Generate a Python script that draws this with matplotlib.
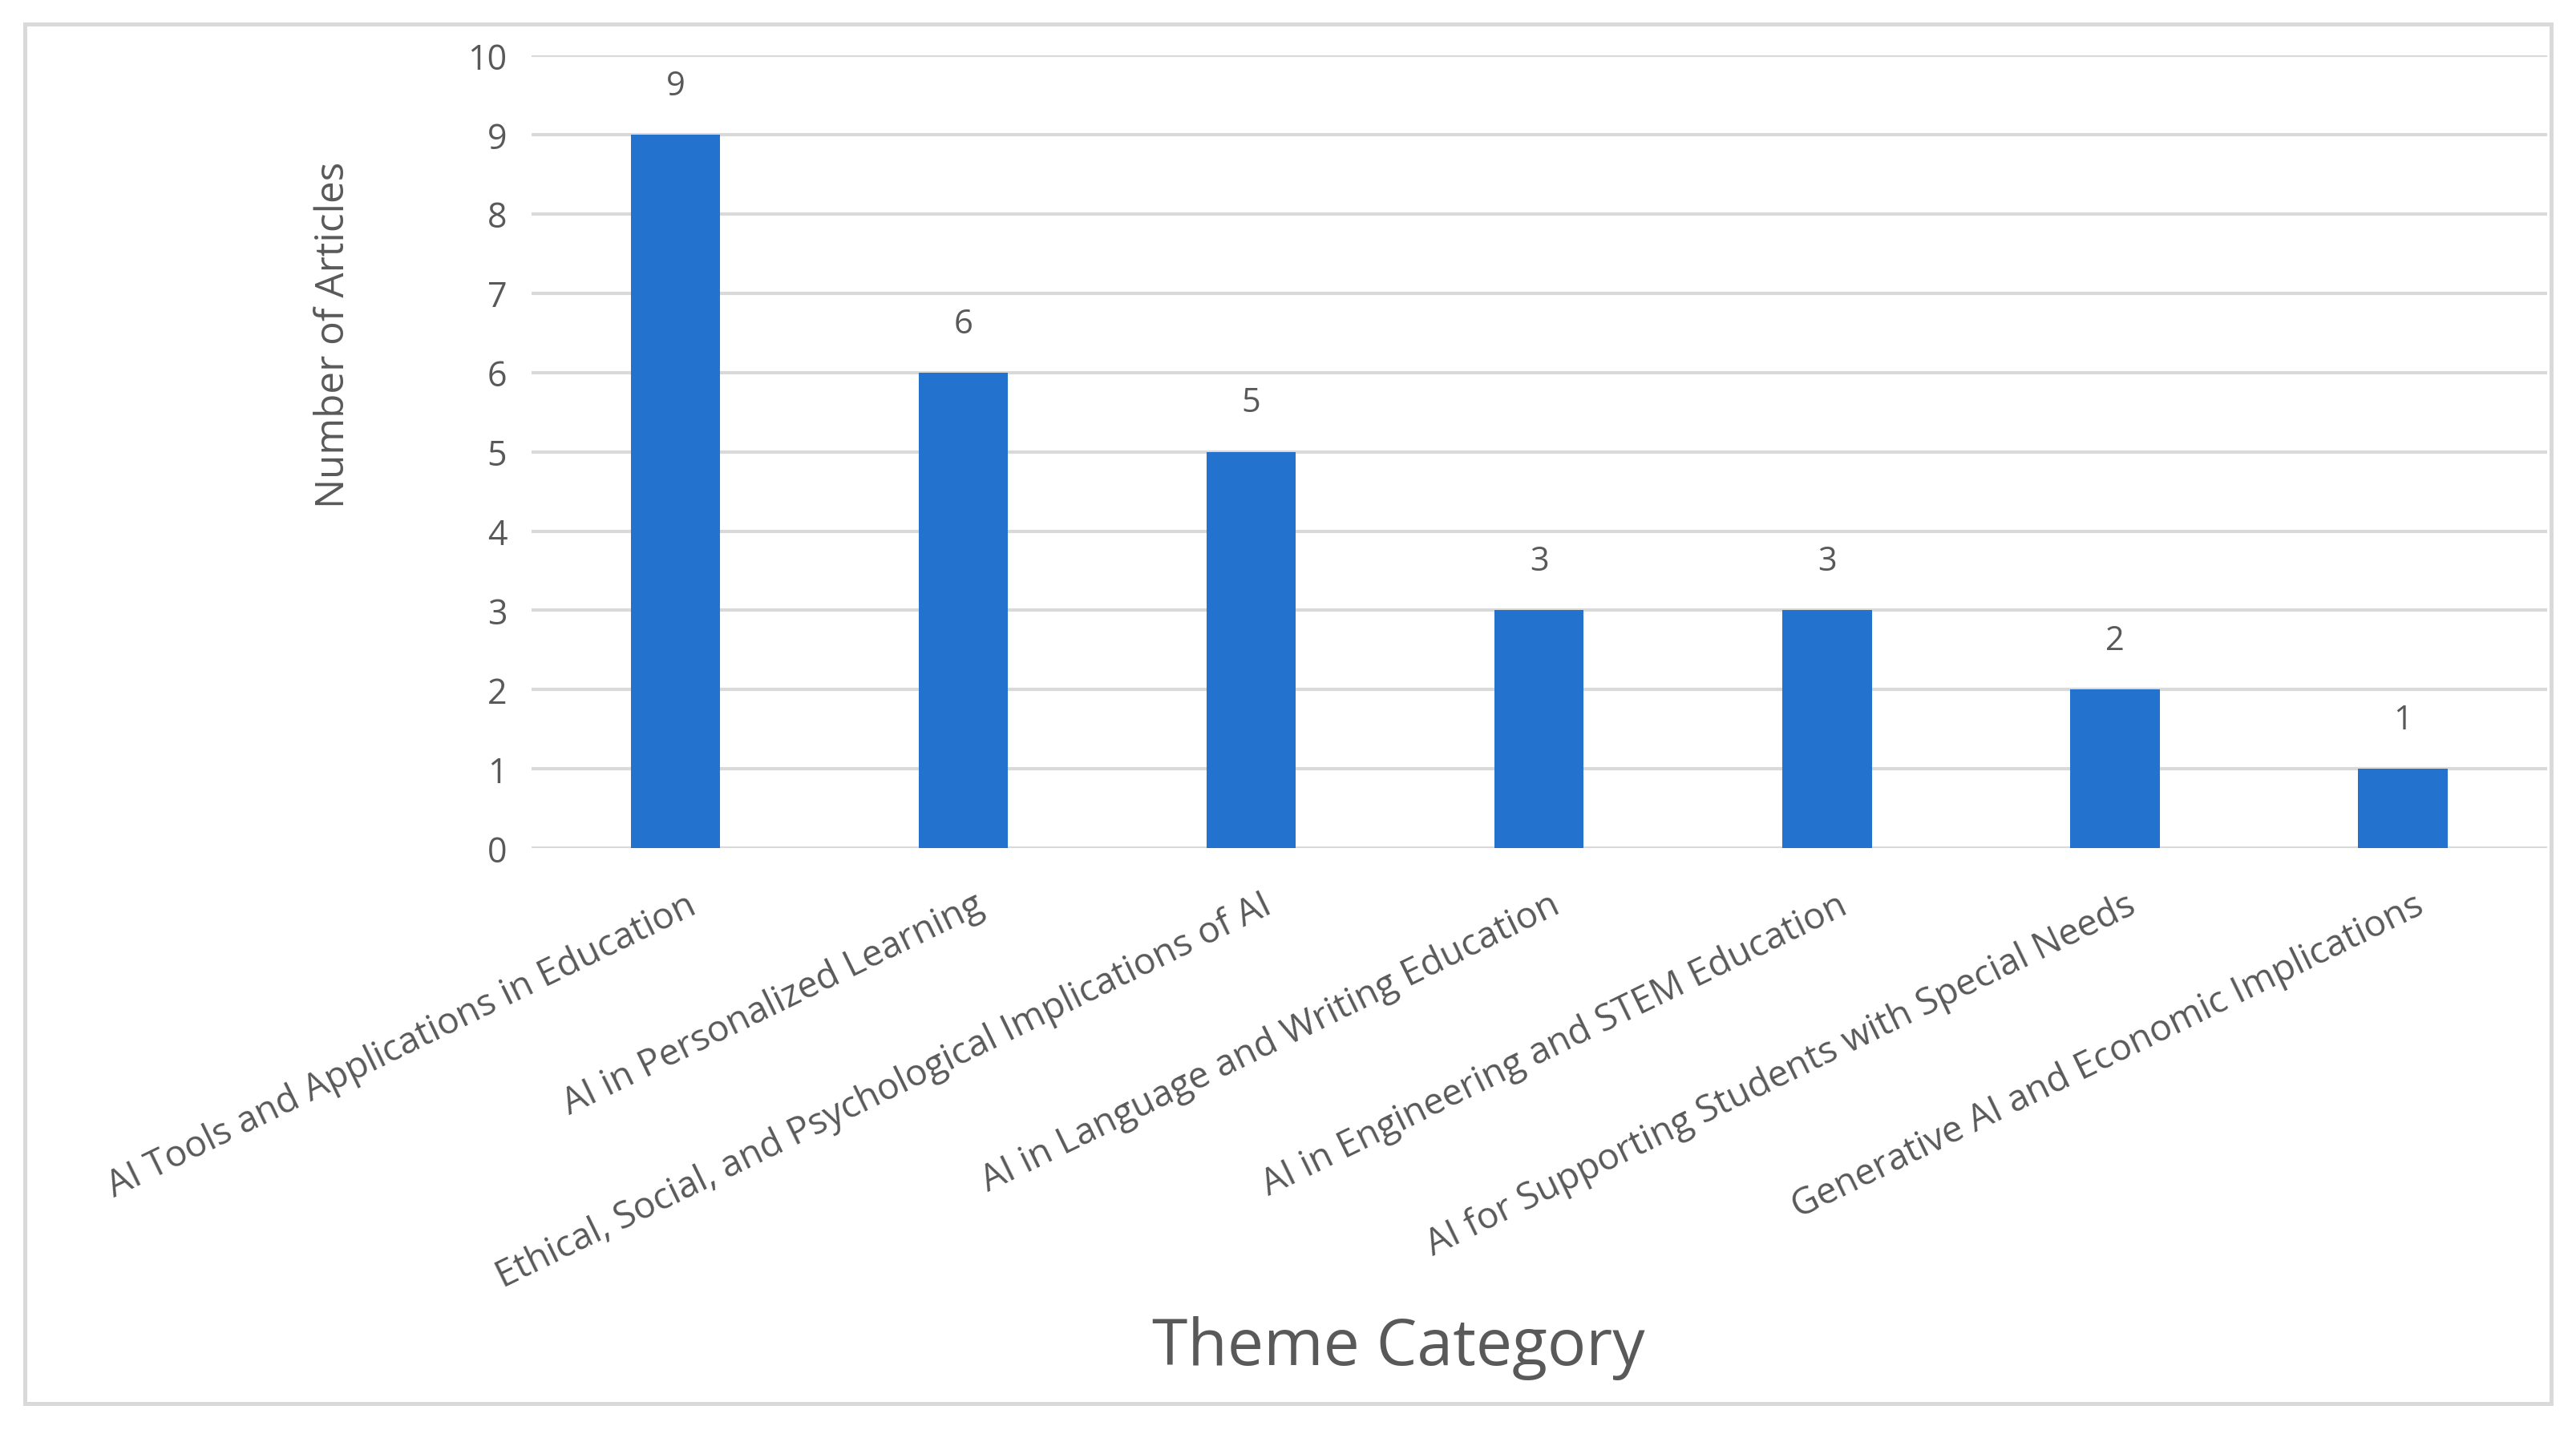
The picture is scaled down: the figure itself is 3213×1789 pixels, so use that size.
import matplotlib
matplotlib.use("Agg")
import matplotlib.pyplot as plt
from matplotlib.patches import Rectangle
from matplotlib.transforms import ScaledTranslation

# chart data
categories = [
    "AI Tools and Applications in Education",
    "AI in Personalized Learning",
    "Ethical, Social, and Psychological Implications of AI",
    "AI in Language and Writing Education",
    "AI in Engineering and STEM Education",
    "AI for Supporting Students with Special Needs",
    "Generative AI and Economic Implications",
]
articles = [9, 6, 5, 3, 3, 2, 1]
y_ticks = list(range(0, 11))

bar_color = "#2372cd"
text_color = "#595959"
grid_color = "#d9d9d9"

plt.rcParams["font.family"] = ["Open Sans", "DejaVu Sans"]

fig = plt.figure(figsize=(16.065, 8.95), dpi=200)
ax = fig.add_axes([0.2063, 0.4082, 0.7824, 0.5528])

x = list(range(len(categories)))
ax.bar(x, articles, width=0.31, color=bar_color, zorder=3)

# data labels above bars
for xi, v in zip(x, articles):
    ax.annotate(str(v), (xi, v), xytext=(0, 22), textcoords="offset points",
                ha="center", va="center", fontsize=15, color=text_color)

ax.set_xlim(-0.5, len(categories) - 0.5)
ax.set_ylim(0, 10)
ax.set_yticks(y_ticks)
ax.set_yticklabels([str(t) for t in y_ticks], fontsize=15.5, color=text_color)
ax.tick_params(axis="y", length=0, pad=11)

ax.set_xticks(x)
ax.set_xticklabels(categories, rotation=26, ha="right", va="top",
                   rotation_mode="anchor", fontsize=16.5, color=text_color)
ax.tick_params(axis="x", length=0, pad=17)
shift = ScaledTranslation(4.5 / 72, 0, fig.dpi_scale_trans)
for lbl in ax.get_xticklabels():
    lbl.set_transform(lbl.get_transform() + shift)

# gridlines
for t in y_ticks:
    ax.axhline(t, color=grid_color, linewidth=1.5, zorder=1)
for s in ax.spines.values():
    s.set_visible(False)

fig.text(0.1295, 0.7665, "Number of Articles", rotation=90, ha="center",
         va="center", fontsize=17.8, color=text_color)
fig.text(0.543, 0.0605, "Theme Category", ha="center", va="center",
         fontsize=29, color=text_color)

# outer frame
frame = Rectangle((31 / 3213, 1 - 1752 / 1790), (3182 - 31) / 3213, (1752 - 31) / 1790,
                  transform=fig.transFigure, fill=False, edgecolor=grid_color,
                  linewidth=1.8)
fig.patches.append(frame)

fig.savefig("out.png", dpi=200, facecolor="white")
